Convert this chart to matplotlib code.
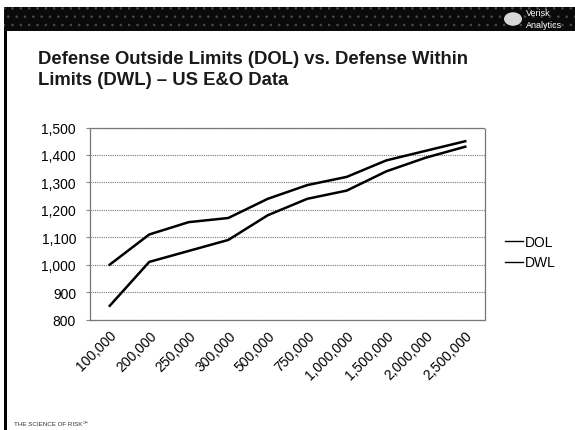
"""
Defense costs by policy limit: DOL vs DWL (US E&O data).
"""
import matplotlib
matplotlib.use("Agg")
import matplotlib.pyplot as plt
import matplotlib.patches as mpatches

limits = ["100,000", "200,000", "250,000", "300,000", "500,000",
          "750,000", "1,000,000", "1,500,000", "2,000,000", "2,500,000"]
dol = [1000, 1110, 1155, 1170, 1240, 1290, 1320, 1380, 1415, 1450]
dwl = [850, 1010, 1050, 1090, 1180, 1240, 1270, 1340, 1390, 1430]
y_ticks = [800, 900, 1000, 1100, 1200, 1300, 1400, 1500]

W, H = 575, 431
plt.rcParams["font.family"] = ["Liberation Sans", "DejaVu Sans"]
plt.rcParams["hatch.linewidth"] = 0.6

fig = plt.figure(figsize=(W / 100, H / 100), dpi=100)
fig.patch.set_facecolor("white")


def fx(x):
    return x / W


def fy(y):
    return 1 - y / H


# Header band (halftone look) and left edge bar
band = mpatches.Rectangle((fx(4), fy(32)), fx(571), 24 / H, transform=fig.transFigure,
                          facecolor="#0a0a0a", edgecolor="#4a4a4a", hatch="..",
                          linewidth=0)
fig.add_artist(band)
fig.add_artist(mpatches.Rectangle((fx(4), 0), fx(3), fy(32), transform=fig.transFigure,
                                  facecolor="black", edgecolor="none"))

# Logo
fig.add_artist(mpatches.Circle((fx(513), fy(20)), 9 / W, transform=fig.transFigure,
                               facecolor="#d8d8d8", edgecolor="none"))
fig.text(fx(526), fy(14), "Verisk", color="white", fontsize=6.5, va="center")
fig.text(fx(526), fy(26), "Analytics", color="white", fontsize=6.5, va="center")

# Title
fig.text(fx(38), fy(60), "Defense Outside Limits (DOL) vs. Defense Within",
         fontsize=13.3, fontweight="bold", color="#1a1a1a", va="center")
fig.text(fx(38), fy(81), "Limits (DWL) \u2013 US E&O Data",
         fontsize=13.3, fontweight="bold", color="#1a1a1a", va="center")

# Footer
fig.text(fx(14), fy(425), "THE SCIENCE OF RISK\u2120", fontsize=4.5,
         color="#333333", va="center")

ax = fig.add_axes([fx(90), fy(320.5), fx(395), (320.5 - 128.5) / H])
x = range(len(limits))
ax.plot(x, dol, color="black", lw=1.8, label="DOL", solid_joinstyle="round")
ax.plot(x, dwl, color="black", lw=1.8, label="DWL", solid_joinstyle="round")

ax.set_xlim(-0.5, len(limits) - 0.5)
ax.set_ylim(800, 1500)
ax.set_yticks(y_ticks)
ax.set_yticklabels([f"{v:,}" for v in y_ticks], fontsize=10)
ax.set_xticks(list(x))
ax.set_xticklabels(limits, rotation=45, ha="right", rotation_mode="anchor",
                   fontsize=10)
ax.tick_params(axis="x", length=0, pad=6)
ax.tick_params(axis="y", length=3, color="#888888", pad=7)

ax.grid(axis="y", color="#777777", linestyle=(0, (1, 1)), linewidth=0.8)
for side in ["left", "right", "bottom", "top"]:
    ax.spines[side].set_color("#777777")
    ax.spines[side].set_linestyle((0, (1, 1)))
    ax.spines[side].set_linewidth(0.9)

leg = fig.legend(loc="center left", bbox_to_anchor=(fx(492), fy(253)), frameon=False,
                 fontsize=10, handlelength=1.3, handletextpad=0.15, labelspacing=0.5)
for line in leg.get_lines():
    line.set_linewidth(1.0)

fig.savefig("out.png", dpi=100)
